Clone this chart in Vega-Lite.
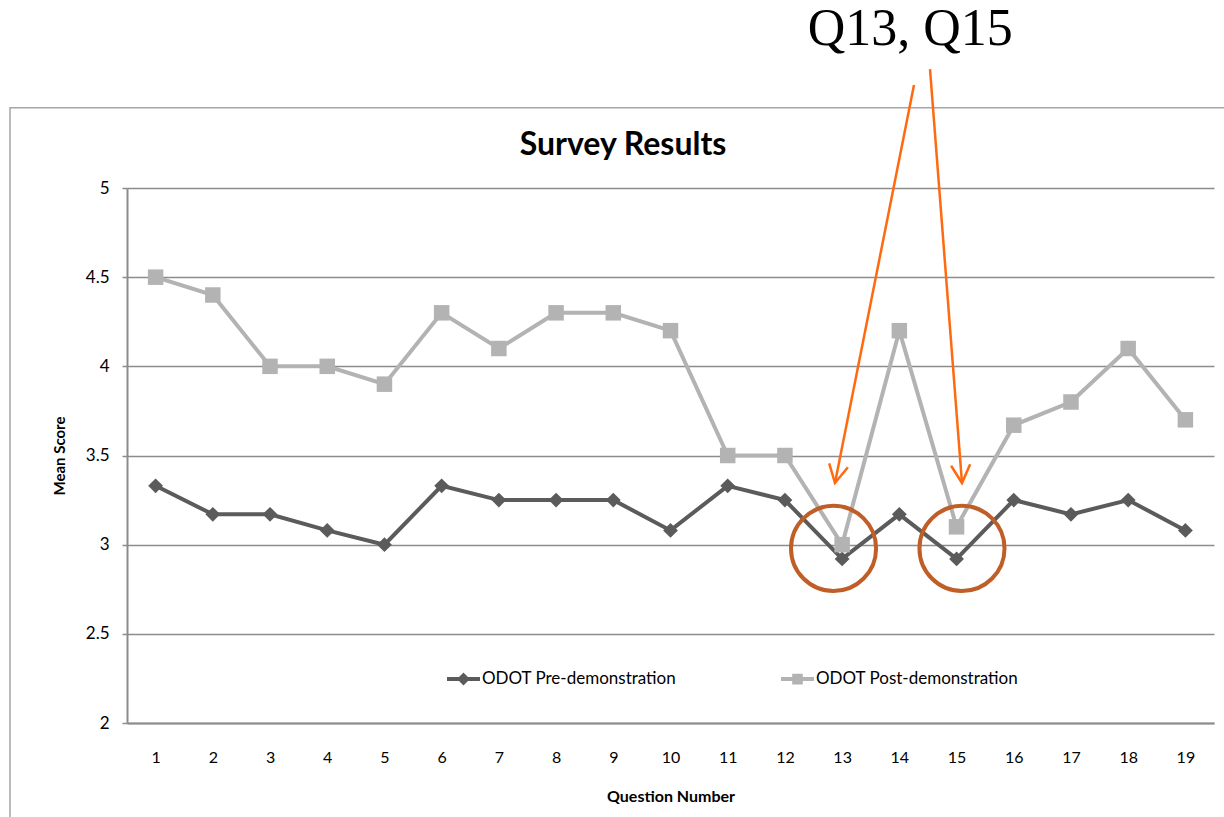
{
  "$schema": "https://vega.github.io/schema/vega-lite/v6.json",
  "width": 1087,
  "height": 535,
  "autosize": "none",
  "padding": {"left": 127, "top": 188, "right": 10, "bottom": 94},
  "background": "white",
  "config": {
    "font": "Lato",
    "view": {"stroke": null}
  },
  "datasets": {
    "scores": [
      {"question": 1, "series": "ODOT Pre-demonstration", "score": 3.33},
      {"question": 2, "series": "ODOT Pre-demonstration", "score": 3.17},
      {"question": 3, "series": "ODOT Pre-demonstration", "score": 3.17},
      {"question": 4, "series": "ODOT Pre-demonstration", "score": 3.08},
      {"question": 5, "series": "ODOT Pre-demonstration", "score": 3.0},
      {"question": 6, "series": "ODOT Pre-demonstration", "score": 3.33},
      {"question": 7, "series": "ODOT Pre-demonstration", "score": 3.25},
      {"question": 8, "series": "ODOT Pre-demonstration", "score": 3.25},
      {"question": 9, "series": "ODOT Pre-demonstration", "score": 3.25},
      {"question": 10, "series": "ODOT Pre-demonstration", "score": 3.08},
      {"question": 11, "series": "ODOT Pre-demonstration", "score": 3.33},
      {"question": 12, "series": "ODOT Pre-demonstration", "score": 3.25},
      {"question": 13, "series": "ODOT Pre-demonstration", "score": 2.92},
      {"question": 14, "series": "ODOT Pre-demonstration", "score": 3.17},
      {"question": 15, "series": "ODOT Pre-demonstration", "score": 2.92},
      {"question": 16, "series": "ODOT Pre-demonstration", "score": 3.25},
      {"question": 17, "series": "ODOT Pre-demonstration", "score": 3.17},
      {"question": 18, "series": "ODOT Pre-demonstration", "score": 3.25},
      {"question": 19, "series": "ODOT Pre-demonstration", "score": 3.08},
      {"question": 1, "series": "ODOT Post-demonstration", "score": 4.5},
      {"question": 2, "series": "ODOT Post-demonstration", "score": 4.4},
      {"question": 3, "series": "ODOT Post-demonstration", "score": 4.0},
      {"question": 4, "series": "ODOT Post-demonstration", "score": 4.0},
      {"question": 5, "series": "ODOT Post-demonstration", "score": 3.9},
      {"question": 6, "series": "ODOT Post-demonstration", "score": 4.3},
      {"question": 7, "series": "ODOT Post-demonstration", "score": 4.1},
      {"question": 8, "series": "ODOT Post-demonstration", "score": 4.3},
      {"question": 9, "series": "ODOT Post-demonstration", "score": 4.3},
      {"question": 10, "series": "ODOT Post-demonstration", "score": 4.2},
      {"question": 11, "series": "ODOT Post-demonstration", "score": 3.5},
      {"question": 12, "series": "ODOT Post-demonstration", "score": 3.5},
      {"question": 13, "series": "ODOT Post-demonstration", "score": 3.0},
      {"question": 14, "series": "ODOT Post-demonstration", "score": 4.2},
      {"question": 15, "series": "ODOT Post-demonstration", "score": 3.1},
      {"question": 16, "series": "ODOT Post-demonstration", "score": 3.67},
      {"question": 17, "series": "ODOT Post-demonstration", "score": 3.8},
      {"question": 18, "series": "ODOT Post-demonstration", "score": 4.1},
      {"question": 19, "series": "ODOT Post-demonstration", "score": 3.7}
    ],
    "circles": [
      {"q": 13, "x": 12.85, "y": 2.979},
      {"q": 15, "x": 15.095, "y": 2.979}
    ],
    "arrows": [
      {"q": 13, "x": 14.256, "y": 5.578, "x2": 12.875, "y2": 3.346},
      {"q": 15, "x": 14.536, "y": 5.667, "x2": 15.095, "y2": 3.346}
    ],
    "note": [
      {"label": "Q13, Q15", "x": 14.19, "y": 5.80}
    ],
    "heading": [
      {"label": "Survey Results", "x": 9.17, "y": 5.185}
    ]
  },
  "layer": [
    {
      "data": {"values": [{}]},
      "mark": {"type": "rect", "fill": "transparent", "stroke": "#a6a6a6", "strokeWidth": 1.5, "clip": false},
      "encoding": {
        "x": {"datum": -1.545, "type": "quantitative", "scale": {"domain": [0.5, 19.5], "nice": false, "zero": false}},
        "x2": {"datum": 21.0},
        "y": {"datum": 5.45, "type": "quantitative", "scale": {"domain": [2, 5], "nice": false, "zero": false}},
        "y2": {"datum": 0.9}
      }
    },
    {
      "data": {"name": "scores"},
      "mark": {"type": "line", "strokeWidth": 4},
      "encoding": {
        "x": {
          "field": "question",
          "type": "quantitative",
          "scale": {"domain": [0.5, 19.5], "nice": false, "zero": false},
          "axis": {
            "values": [1,2,3,4,5,6,7,8,9,10,11,12,13,14,15,16,17,18,19],
            "format": "d",
            "title": "Question Number",
            "titleFont": "Lato",
            "titleFontSize": 16,
            "titleFontWeight": "bold",
            "titleColor": "#000000",
            "titlePadding": 23,
            "labelFont": "Lato",
            "labelFontSize": 16,
            "labelColor": "#000000",
            "labelPadding": 26,
            "labelFlush": false,
            "labelOverlap": false,
            "grid": false,
            "ticks": false,
            "domainColor": "#8c8c8c",
            "domainWidth": 2
          }
        },
        "y": {
          "field": "score",
          "type": "quantitative",
          "scale": {"domain": [2, 5], "nice": false, "zero": false},
          "axis": {
            "values": [2, 2.5, 3, 3.5, 4, 4.5, 5],
            "format": ".1~f",
            "title": "Mean Score",
            "titleFont": "Lato",
            "titleFontSize": 15,
            "titleFontWeight": "bold",
            "titleColor": "#000000",
            "titlePadding": 18,
            "labelFont": "Lato",
            "labelFontSize": 17,
            "labelColor": "#000000",
            "labelPadding": 13,
            "tickSize": 5,
            "tickColor": "#8c8c8c",
            "tickWidth": 1.5,
            "domainColor": "#8c8c8c",
            "domainWidth": 2,
            "grid": true,
            "gridColor": "#8c8c8c",
            "gridWidth": 1.5
          }
        },
        "color": {
          "field": "series",
          "type": "nominal",
          "sort": ["ODOT Pre-demonstration", "ODOT Post-demonstration"],
          "scale": {"domain": ["ODOT Pre-demonstration", "ODOT Post-demonstration"], "range": ["#5b5b5b", "#b3b3b3"]},
          "legend": {
            "orient": "none",
            "direction": "horizontal",
            "legendX": 318,
            "legendY": 472,
            "title": null,
            "labelFont": "Lato",
            "labelFontSize": 17,
            "labelColor": "#000000",
            "labelLimit": 400,
            "labelOffset": 0,
            "columnPadding": 96,
            "symbolSize": 1089,
            "symbolStrokeWidth": 4,
            "symbolType": "stroke",
            "encode": {
              "symbols": {
                "update": {
                  "shape": {"signal": "datum.value == 'ODOT Pre-demonstration' ? 'M-1,0L1,0M0,-0.22L0.22,0L0,0.22L-0.22,0Z' : 'M-1,0L1,0M-0.2,-0.2L0.2,-0.2L0.2,0.2L-0.2,0.2Z'"},
                  "fill": {"signal": "datum.value == 'ODOT Pre-demonstration' ? '#5b5b5b' : '#b3b3b3'"},
                  "stroke": {"signal": "datum.value == 'ODOT Pre-demonstration' ? '#5b5b5b' : '#b3b3b3'"},
                  "strokeWidth": {"value": 4},
                  "fillOpacity": {"value": 1},
                  "strokeOpacity": {"value": 1}
                }
              }
            }
          }
        }
      }
    },
    {
      "data": {"name": "scores"},
      "transform": [{"filter": "datum.series == 'ODOT Pre-demonstration'"}],
      "mark": {"type": "point", "shape": "diamond", "size": 220, "filled": true, "opacity": 1, "color": "#5b5b5b"},
      "encoding": {
        "x": {"field": "question", "type": "quantitative"},
        "y": {"field": "score", "type": "quantitative"}
      }
    },
    {
      "data": {"name": "scores"},
      "transform": [{"filter": "datum.series == 'ODOT Post-demonstration'"}],
      "mark": {"type": "point", "shape": "square", "size": 240, "filled": true, "opacity": 1, "color": "#b3b3b3"},
      "encoding": {
        "x": {"field": "question", "type": "quantitative"},
        "y": {"field": "score", "type": "quantitative"}
      }
    },
    {
      "data": {"name": "circles"},
      "mark": {"type": "point", "shape": "circle", "filled": false, "size": 7238, "stroke": "#bf5f27", "strokeWidth": 4, "opacity": 1, "clip": false},
      "encoding": {
        "x": {"field": "x", "type": "quantitative"},
        "y": {"field": "y", "type": "quantitative"}
      }
    },
    {
      "data": {"name": "arrows"},
      "mark": {"type": "rule", "stroke": "#ff6a10", "strokeWidth": 2.5, "clip": false},
      "encoding": {
        "x": {"field": "x", "type": "quantitative"},
        "y": {"field": "y", "type": "quantitative"},
        "x2": {"field": "x2"},
        "y2": {"field": "y2"}
      }
    },
    {
      "data": {"name": "arrows"},
      "mark": {"type": "point", "shape": "M-0.53,-1L0,0L0.53,-1", "filled": false, "size": 1296, "stroke": "#ff6a10", "strokeWidth": 2.5, "opacity": 1, "clip": false},
      "encoding": {
        "x": {"field": "x2", "type": "quantitative"},
        "y": {"field": "y2", "type": "quantitative"},
        "angle": {"condition": {"test": "datum.q == 13", "value": 11.4}, "value": -4.3}
      }
    },
    {
      "data": {"name": "note"},
      "mark": {"type": "text", "font": "Liberation Serif", "fontSize": 52, "color": "#000000", "align": "center", "baseline": "alphabetic", "clip": false},
      "encoding": {
        "x": {"field": "x", "type": "quantitative"},
        "y": {"field": "y", "type": "quantitative"},
        "text": {"field": "label"}
      }
    },
    {
      "data": {"name": "heading"},
      "mark": {"type": "text", "font": "Lato", "fontSize": 32, "fontWeight": "bold", "color": "#000000", "align": "center", "baseline": "alphabetic", "clip": false},
      "encoding": {
        "x": {"field": "x", "type": "quantitative"},
        "y": {"field": "y", "type": "quantitative"},
        "text": {"field": "label"}
      }
    }
  ]
}
